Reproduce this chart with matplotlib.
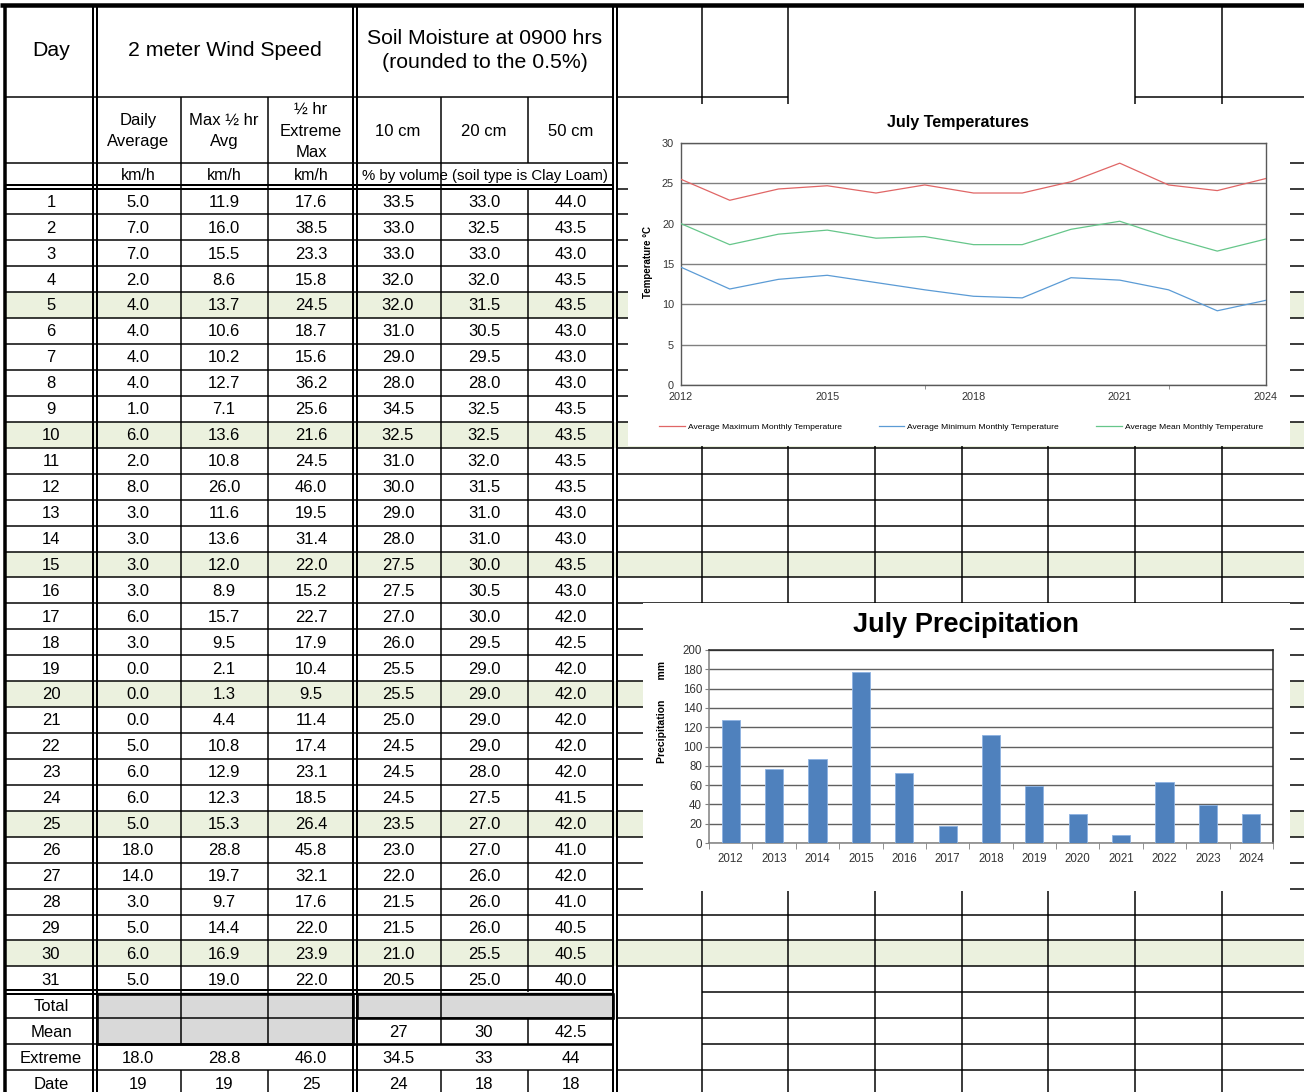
import matplotlib
matplotlib.use('Agg')
import matplotlib.pyplot as plt
from matplotlib.patches import Rectangle
from matplotlib import font_manager as fm

# ---------------- data ----------------
days = list(range(1, 32))
wind_avg = [5.0, 7.0, 7.0, 2.0, 4.0, 4.0, 4.0, 4.0, 1.0, 6.0, 2.0, 8.0, 3.0, 3.0, 3.0, 3.0,
            6.0, 3.0, 0.0, 0.0, 0.0, 5.0, 6.0, 6.0, 5.0, 18.0, 14.0, 3.0, 5.0, 6.0, 5.0]
wind_max_half = [11.9, 16.0, 15.5, 8.6, 13.7, 10.6, 10.2, 12.7, 7.1, 13.6, 10.8, 26.0, 11.6, 13.6,
                 12.0, 8.9, 15.7, 9.5, 2.1, 1.3, 4.4, 10.8, 12.9, 12.3, 15.3, 28.8, 19.7, 9.7,
                 14.4, 16.9, 19.0]
wind_ext = [17.6, 38.5, 23.3, 15.8, 24.5, 18.7, 15.6, 36.2, 25.6, 21.6, 24.5, 46.0, 19.5, 31.4,
            22.0, 15.2, 22.7, 17.9, 10.4, 9.5, 11.4, 17.4, 23.1, 18.5, 26.4, 45.8, 32.1, 17.6,
            22.0, 23.9, 22.0]
soil_10 = [33.5, 33.0, 33.0, 32.0, 32.0, 31.0, 29.0, 28.0, 34.5, 32.5, 31.0, 30.0, 29.0, 28.0,
           27.5, 27.5, 27.0, 26.0, 25.5, 25.5, 25.0, 24.5, 24.5, 24.5, 23.5, 23.0, 22.0, 21.5,
           21.5, 21.0, 20.5]
soil_20 = [33.0, 32.5, 33.0, 32.0, 31.5, 30.5, 29.5, 28.0, 32.5, 32.5, 32.0, 31.5, 31.0, 31.0,
           30.0, 30.5, 30.0, 29.5, 29.0, 29.0, 29.0, 29.0, 28.0, 27.5, 27.0, 27.0, 26.0, 26.0,
           26.0, 25.5, 25.0]
soil_50 = [44.0, 43.5, 43.0, 43.5, 43.5, 43.0, 43.0, 43.0, 43.5, 43.5, 43.5, 43.5, 43.0, 43.0,
           43.5, 43.0, 42.0, 42.5, 42.0, 42.0, 42.0, 42.0, 42.0, 41.5, 42.0, 41.0, 42.0, 41.0,
           40.5, 40.5, 40.0]
highlight_days = [5, 10, 15, 20, 25, 30]

summary_labels = ['Total', 'Mean', 'Extreme', 'Date']
soil_mean = ['27', '30', '42.5']
wind_extreme = ['18.0', '28.8', '46.0']
soil_extreme = ['34.5', '33', '44']
wind_date = ['19', '19', '25']
soil_date = ['24', '18', '18']

header_day = 'Day'
header_wind = '2 meter Wind Speed'
header_soil = 'Soil Moisture at 0900 hrs\n(rounded to the 0.5%)'
sub_wind = ['Daily\nAverage', 'Max \u00bd hr\nAvg', '\u00bd hr\nExtreme\nMax']
sub_soil = ['10 cm', '20 cm', '50 cm']
unit_wind = ['km/h', 'km/h', 'km/h']
unit_soil = '% by volume (soil type is Clay Loam)'

years = list(range(2012, 2025))
t_max = [25.5, 22.9, 24.3, 24.7, 23.8, 24.8, 23.8, 23.8, 25.2, 27.5, 24.8, 24.1, 25.6]
t_min = [14.6, 11.9, 13.1, 13.6, 12.7, 11.8, 11.0, 10.8, 13.3, 13.0, 11.8, 9.2, 10.5]
t_mean = [20.0, 17.4, 18.7, 19.2, 18.2, 18.4, 17.4, 17.4, 19.3, 20.3, 18.3, 16.6, 18.1]
t_names = ['Average Maximum Monthly Temperature', 'Average Minimum Monthly Temperature',
           'Average Mean Monthly Temperature']
temp_xticks = [2012, 2015, 2018, 2021, 2024]
precip = [127, 77, 87.5, 177, 72.5, 17.5, 112, 59, 30, 8.5, 63, 39, 30]

# ---------------- fonts ----------------
avail = {f.name for f in fm.fontManager.ttflist}
SANS = 'Liberation Sans' if 'Liberation Sans' in avail else 'DejaVu Sans'
NARROW = 'Liberation Sans Narrow' if 'Liberation Sans Narrow' in avail else SANS
plt.rcParams['font.family'] = [SANS, 'DejaVu Sans']

W, H = 1304, 1092
fig = plt.figure(figsize=(W / 100, H / 100), dpi=100)
fig.patch.set_facecolor('white')
ax = fig.add_axes([0, 0, 1, 1])
ax.set_xlim(0, W)
ax.set_ylim(H, 0)
ax.axis('off')


def px(v):
    return v * 72 / 100


def hl(y, x0, x1, w=1.5, z=3):
    ax.plot([x0, x1], [y, y], color='black', lw=px(w), solid_capstyle='butt', zorder=z)


def vl(x, y0, y1, w=1.5, z=3):
    ax.plot([x, x], [y0, y1], color='black', lw=px(w), solid_capstyle='butt', zorder=z)


RH = 25.93
ys = [188.5 + i * RH for i in range(36)]
CX = [51, 138, 224, 311, 398, 484, 571]
GREEN = '#EBF1DE'
GRAY = '#D9D9D9'

# fills
for d in highlight_days:
    i = d - 1
    ax.add_patch(Rectangle((5, ys[i]), W - 5, RH, color=GREEN, lw=0, zorder=1))
ax.add_patch(Rectangle((96, ys[31]), 257, ys[33] - ys[31], color=GRAY, lw=0, zorder=1))
ax.add_patch(Rectangle((357, ys[31]), 256, ys[32] - ys[31], color=GRAY, lw=0, zorder=1))

# ---- left table lines
THIN, DBL = 1.5, 2.0
hl(5, 0, W, 4.5)
vl(4.5, 5, H, 3.5)
hl(97, 5, 613, THIN)
hl(163, 5, 613, THIN)
hl(184.5, 5, 613, DBL)
hl(188.5, 5, 613, DBL)
for i in range(1, 31):
    hl(ys[i], 5, 613, THIN)
hl(ys[31] - 2, 5, 613, DBL)
hl(ys[31] + 2, 5, 613, DBL)
hl(ys[32], 5, 613, THIN)
hl(ys[33], 5, 96, THIN)
hl(ys[33], 96, 613, 2.6)
hl(ys[34], 5, 613, THIN)
for xa, xb in [(93, 97), (353, 357), (613, 617)]:
    vl(xa, 5, H, DBL)
    vl(xb, 5, H, DBL)
for x in (181, 268):
    vl(x, 97, ys[33], THIN)
    vl(x, ys[34], H, THIN)
vl(441, 97, ys[33], THIN)
vl(441, ys[34], H, THIN)
vl(528, 97, 163, THIN)
vl(528, 188.5, ys[31], THIN)
vl(528, ys[32], ys[33], THIN)
vl(528, ys[34], H, THIN)
# gray block outlines
ax.add_patch(Rectangle((97, ys[31] + 2), 256, ys[33] - ys[31] - 2, fill=False, ec='black',
                       lw=px(2.6), zorder=3))
ax.add_patch(Rectangle((357, ys[31] + 2), 256, ys[32] - ys[31] - 2, fill=False, ec='black',
                       lw=px(2.6), zorder=3))

# ---- right grid lines
hl(97, 617, 788, THIN)
hl(97, 1135, W, THIN)
hl(163, 617, W, THIN)
hl(188.5, 617, W, THIN)
for i in range(1, 31):
    hl(ys[i], 617, W, THIN)
hl(ys[31], 702, W, THIN)
hl(ys[32], 617, W, THIN)
hl(ys[33], 702, W, THIN)
hl(ys[34], 617, W, THIN)
for x in (702, 788, 1135, 1222):
    vl(x, 5, H, THIN)
for x in (875, 962, 1048):
    vl(x, 160, H, THIN)

# ---- text
def t(x, y, s, size=12, **kw):
    ax.text(x, y, s, ha='center', va='center', fontsize=size, color='black',
            family=[SANS, 'DejaVu Sans'], zorder=4, **kw)


t(CX[0], 51, header_day, 15.3)
t(225, 51, header_wind, 15.3)
t(485, 50.5, header_soil, 15.3, linespacing=1.4)
for k, s in enumerate(sub_wind):
    t(CX[1 + k], 131, s, 12, linespacing=1.55)
for k, s in enumerate(sub_soil):
    t(CX[4 + k], 131, s, 12)
for k, s in enumerate(unit_wind):
    t(CX[1 + k], 176, s, 11.5)
t(485, 176, unit_soil, 10.8)

cols = [wind_avg, wind_max_half, wind_ext, soil_10, soil_20, soil_50]
for i, d in enumerate(days):
    yc = ys[i] + RH / 2 + 0.8
    t(CX[0], yc, str(d), 12)
    for k, col in enumerate(cols):
        t(CX[1 + k], yc, f'{col[i]:.1f}', 12)

for j, lab in enumerate(summary_labels):
    yc = ys[31 + j] + RH / 2 + 1
    t(CX[0], yc, lab, 12)
for k in range(3):
    t(CX[4 + k], ys[32] + RH / 2 + 1, soil_mean[k], 12)
    t(CX[1 + k], ys[33] + RH / 2 + 1, wind_extreme[k], 12)
    t(CX[4 + k], ys[33] + RH / 2 + 1, soil_extreme[k], 12)
    t(CX[1 + k], ys[34] + RH / 2 + 1, wind_date[k], 12)
    t(CX[4 + k], ys[34] + RH / 2 + 1, soil_date[k], 12)

# ---- chart backgrounds (cover the grid)
ax.add_patch(Rectangle((628, 104), 1290 - 628, 446 - 104, color='white', lw=0, zorder=10))
ax.add_patch(Rectangle((643, 603), 1290 - 643, 891 - 603, color='white', lw=0, zorder=10))


def frect(x0, y0, x1, y1):
    return [x0 / W, 1 - y1 / H, (x1 - x0) / W, (y1 - y0) / H]


TICKC = '#333333'

# ---- temperature chart
axT = fig.add_axes(frect(681, 143, 1266, 385))
axT.set_facecolor('white')
colors_t = ['#E06666', '#5B9BD5', '#66C68A']
lines = []
for series, c, name in zip([t_max, t_min, t_mean], colors_t, t_names):
    ln, = axT.plot(years, series, color=c, lw=0.9, label=name, zorder=3)
    lines.append(ln)
axT.set_xlim(2012, 2024)
axT.set_ylim(0, 30)
axT.set_yticks(range(0, 31, 5))
axT.set_xticks(temp_xticks)
axT.set_xticks([2017, 2022], minor=True)
axT.grid(axis='y', color='#808080', lw=1.0, zorder=1)
axT.tick_params(axis='both', which='major', length=0, labelsize=7.8, colors=TICKC, pad=5)
axT.tick_params(axis='x', which='minor', length=3, color='#808080')
for s in axT.spines.values():
    s.set_color('#595959')
    s.set_linewidth(1.0)
for lab in axT.get_xticklabels() + axT.get_yticklabels():
    lab.set_family(NARROW)
fig.text(958 / W, 1 - 123 / H, 'July Temperatures', ha='center', va='center', fontsize=11.6,
         fontweight='bold', family=NARROW)
fig.text(648 / W, 1 - 262 / H, 'Temperature \u00b0C', ha='center', va='center', fontsize=7,
         fontweight='bold', rotation=90, family=SANS)
fig.legend(handles=lines, loc='center', bbox_to_anchor=(961 / W, 1 - 427 / H), ncol=3,
           frameon=False, handlelength=3.0, handletextpad=0.35,
           columnspacing=4.4, prop={'family': NARROW, 'size': 6.1})

# ---- precipitation chart
axP = fig.add_axes(frect(709, 650, 1273, 843))
axP.set_facecolor('white')
xs = list(range(len(years)))
axP.bar(xs, precip, width=0.42, color='#4F81BD', edgecolor='#8DB3E2', lw=0.6, zorder=3)
axP.set_xlim(-0.5, len(years) - 0.5)
axP.set_ylim(0, 200)
axP.set_yticks(range(0, 201, 20))
axP.set_xticks(xs)
axP.set_xticklabels([str(y) for y in years])
axP.set_xticks([x - 0.5 for x in range(len(years) + 1)], minor=True)
axP.grid(axis='y', color='#606060', lw=1.0, zorder=1)
axP.tick_params(axis='x', which='major', length=0, labelsize=8.3, colors=TICKC, pad=7)
axP.tick_params(axis='x', which='minor', length=4, color='#808080')
axP.tick_params(axis='y', which='major', length=3, labelsize=8.3, colors=TICKC, pad=2,
                color='#808080')
for name, s in axP.spines.items():
    s.set_linewidth(1.1)
    s.set_color('#222222' if name in ('top', 'right') else '#808080')
fig.text(966 / W, 1 - 625 / H, 'July Precipitation', ha='center', va='center', fontsize=19.5,
         fontweight='bold', family=SANS)
fig.text(662 / W, 1 - 712 / H, 'Precipitation       mm', ha='center', va='center', fontsize=7.5,
         fontweight='bold', rotation=90, family=SANS)

fig.savefig('out.png', dpi=100, facecolor='white')
